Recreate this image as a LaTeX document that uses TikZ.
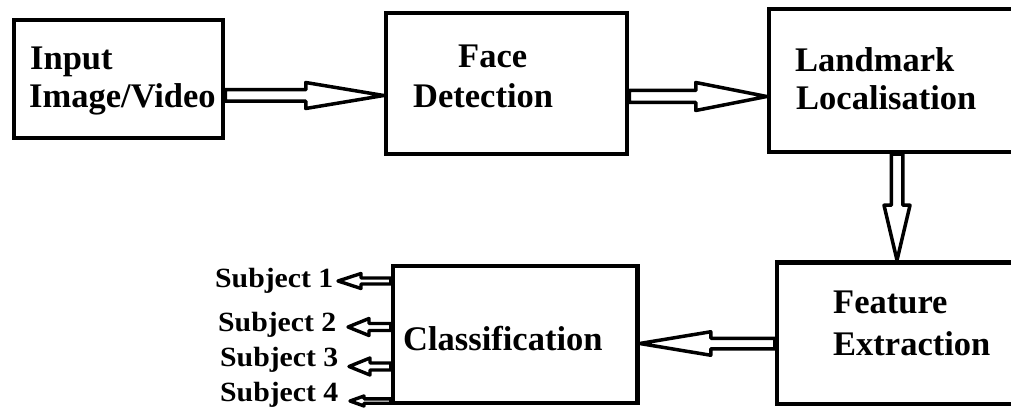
\documentclass[tikz,border=0pt]{standalone}
\usepackage{fontspec}
\usepackage{graphicx}
\setmainfont{Liberation Serif}
\usetikzlibrary{calc,backgrounds}
\newcommand\blockarrow[6]{% #1 style, #2 from, #3 tip, #4 head length, #5 shaft half, #6 head half
  \path ($(#3)!#4!(#2)$) coordinate (hb);
  \draw[#1] ($(#2)!#5!90:(#3)$) -- ($(hb)!#5!90:(#3)$) -- ($(hb)!#6!90:(#3)$) -- (#3)
    -- ($(hb)!#6!-90:(#3)$) -- ($(hb)!#5!-90:(#3)$) -- ($(#2)!#5!-90:(#3)$) -- cycle;
}
\newcommand\subj[1]{\scalebox{1.07}[1]{#1}}
\tikzset{
  box/.style={draw, line width=4.5pt, rectangle, inner sep=0pt},
  txt/.style={inner sep=0pt, anchor=base west, font=\fontsize{34.5}{38}\selectfont\bfseries},
  stxt/.style={inner sep=0pt, anchor=base west, font=\fontsize{27.8}{30}\selectfont\bfseries},
  bigarr/.style={draw=black, fill=white, line width=3.5pt, line join=round},
  smallarr/.style={draw=black, fill=white, line width=3.4pt, line join=round},
}
\begin{document}
\begin{tikzpicture}[x=1pt,y=-1pt]
\clip (0,0) rectangle (1011,419);
% boxes
\node[box, minimum width=209pt, minimum height=118pt] (in) at (118.5,79) {};
\node[box, minimum width=241pt, minimum height=141pt] (fd) at (506.5,83.5) {};
\node[box, minimum width=251pt, minimum height=143pt] (lm) at (894.5,80.5) {};
\node[box, minimum width=243pt, minimum height=141.5pt] (fe) at (898.5,333.25) {};
\node[box, minimum width=244.5pt, minimum height=137pt] (cl) at (515.25,334.5) {};
% texts
\node[txt] (inA) at (30,70) {Input};
\node[txt] (inB) at (29,108) {Image/Video};
\node[txt] (fdA) at (458,68) {Face};
\node[txt] (fdB) at (413,108) {Detection};
\node[txt] (lmA) at (795,72) {Landmark};
\node[txt] (lmB) at (796,110) {Localisation};
\node[txt] (feA) at (833,313) {Feature};
\node[txt] (feB) at (833,355) {Extraction};
\node[txt] (clA) at (403,350) {Classification};
\node[stxt] (s1) at (215,288) {\subj{Subject 1}};
\node[stxt] (s2) at (218,331) {\subj{Subject 2}};
\node[stxt] (s3) at (220,366) {\subj{Subject 3}};
\node[stxt] (s4) at (220,401) {\subj{Subject 4}};
% helper coordinates
\coordinate (r1) at (0,95.5);
\coordinate (r2) at (0,96.5);
\coordinate (c3) at (897,0);
\coordinate (r4) at (0,343.5);
\coordinate (t1) at (338,281);
\coordinate (t2) at (348,327);
\coordinate (t3) at (349,366.5);
\coordinate (t4) at (350,401);
\begin{scope}[on background layer]
\fill[white] (0,0) rectangle (1011,419);
\blockarrow{bigarr}{in.east |- r1}{fd.west |- r1}{78pt}{5.75pt}{13pt}
\blockarrow{bigarr}{fd.east |- r2}{lm.west |- r2}{71pt}{6pt}{14pt}
\blockarrow{bigarr}{lm.south -| c3}{fe.north -| c3}{55pt}{5.75pt}{13pt}
\blockarrow{bigarr}{fe.west |- r4}{cl.east |- r4}{71pt}{5.25pt}{11.75pt}
\blockarrow{smallarr}{cl.west |- t1}{t1}{23pt}{3pt}{7.5pt}
\blockarrow{smallarr}{cl.west |- t2}{t2}{21pt}{3.5pt}{8.5pt}
\blockarrow{smallarr}{cl.west |- t3}{t3}{21pt}{3.5pt}{8.5pt}
\blockarrow{smallarr}{cl.west |- t4}{t4}{14pt}{2.2pt}{5pt}
\end{scope}
\end{tikzpicture}
\end{document}
